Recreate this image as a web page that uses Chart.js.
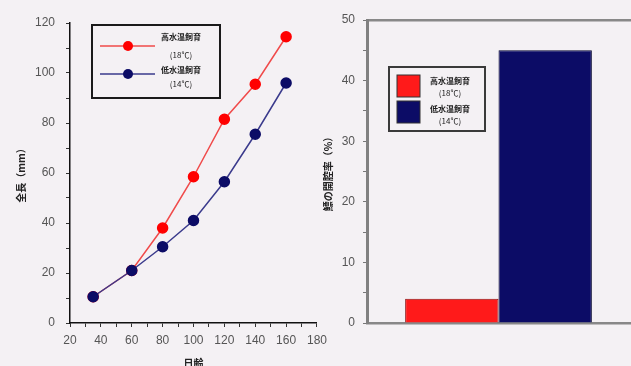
<!DOCTYPE html>
<html>
<head>
<meta charset="utf-8">
<script src="https://cdn.jsdelivr.net/npm/chart.js@4.4.0/dist/chart.umd.min.js"></script>
<style>
  body { margin: 0; background: #f4f1f4; width: 631px; height: 366px; overflow: hidden; position: relative; }
  #l { position: absolute; left: 0; top: 0; width: 333px; height: 366px; }
  #r { position: absolute; left: 315px; top: 0; width: 316px; height: 366px; }
</style>
</head>
<body>
<div id="l"><canvas id="growth"></canvas></div>
<div id="r"><canvas id="rate"></canvas></div>
<script>
// data
const days = [35, 60, 80, 100, 120, 140, 160];
const highTemp = [10.5, 21, 38, 58.5, 81.5, 95.5, 114.5];
const lowTemp = [10.5, 21, 30.5, 41, 56.5, 75.5, 96];
const seriesNames = ['高水温飼育', '低水温飼育'];
const tempLabels = ['(18℃)', '(14℃)'];
const rateValues = [4, 45];

const RED = '#ff1a1a', BLUE = '#0c0c66';
const jp = '"Noto Sans CJK JP", "DejaVu Sans", sans-serif';

// boxed two-line legend, drawn on the canvas
const boxLegend = {
  id: 'boxLegend',
  afterDraw(chart, args, o) {
    if (!o.rows) return;
    const c = chart.ctx;
    c.save();
    c.lineWidth = 2;
    c.strokeStyle = o.border;
    c.strokeRect(o.x, o.y, o.w, o.h);
    chart.data.datasets.forEach((ds, i) => {
      const r = o.rows[i];
      const col = ds.pointBackgroundColor || ds.backgroundColor;
      if (o.kind === 'line') {
        c.strokeStyle = ds.borderColor;
        c.lineWidth = 1.5;
        c.beginPath(); c.moveTo(o.mark[0], r[0]); c.lineTo(o.mark[1], r[0]); c.stroke();
        c.fillStyle = col;
        c.beginPath(); c.arc(o.mark[2], r[0], 5, 0, Math.PI * 2); c.fill();
      } else {
        c.fillStyle = col;
        c.fillRect(o.mark[0], r[0] - 11, o.mark[1] - o.mark[0], 22);
        c.strokeStyle = '#333'; c.lineWidth = 1;
        c.strokeRect(o.mark[0], r[0] - 11, o.mark[1] - o.mark[0], 22);
      }
      c.fillStyle = '#222';
      c.font = 'bold 8px ' + jp;
      c.textAlign = 'center';
      c.textBaseline = 'middle';
      c.fillText(seriesNames[i], o.textX, r[1]);
      c.font = '8px ' + jp;
      c.fillText(tempLabels[i], o.textX, r[2]);
    });
    c.restore();
  }
};

new Chart(document.getElementById('growth'), {
  type: 'line',
  data: {
    datasets: [
      {
        label: seriesNames[0],
        data: days.map((d, i) => ({ x: d, y: highTemp[i] })),
        borderColor: '#f04a4a',
        pointBackgroundColor: '#ff0000',
        pointBorderColor: '#ff0000',
        borderWidth: 1.5,
        pointRadius: 5,
        order: 1
      },
      {
        label: seriesNames[1],
        data: days.map((d, i) => ({ x: d, y: lowTemp[i] })),
        borderColor: '#3a3a8c',
        pointBackgroundColor: BLUE,
        pointBorderColor: BLUE,
        borderWidth: 1.5,
        pointRadius: 5,
        order: 0
      }
    ]
  },
  options: {
    animation: false,
    responsive: true,
    maintainAspectRatio: false,
    layout: { padding: { top: 23, right: 12 } },
    plugins: {
      legend: { display: false },
      tooltip: { enabled: false },
      boxLegend: {
        kind: 'line', border: '#1a1a1a',
        x: 92, y: 25, w: 128, h: 73,
        mark: [100, 155, 128], textX: 181,
        rows: [[46, 37, 55], [74, 70, 84]]
      }
    },
    scales: {
      x: {
        type: 'linear', min: 20, max: 180,
        afterFit: s => { s.height = 43; },
        border: { color: '#111', width: 1.5 },
        grid: { drawOnChartArea: false, tickLength: 4, tickColor: '#333' },
        ticks: { stepSize: 10, padding: 6, color: '#555', font: { size: 12 },
                 maxRotation: 0, autoSkip: false,
                 callback: v => v % 20 === 0 ? v : '' },
        title: { display: true, text: '日齢', color: '#222', font: { size: 10, weight: 'bold', family: jp },
                 padding: { top: 0, bottom: -3 } }
      },
      y: {
        min: 0, max: 120,
        afterFit: s => { s.width = 70; },
        border: { color: '#111', width: 1.5 },
        grid: { drawOnChartArea: false, tickLength: 4, tickColor: '#333' },
        ticks: { stepSize: 10, padding: 11, color: '#555', font: { size: 12 },
                 autoSkip: false,
                 callback: v => v % 20 === 0 ? v : '' },
        title: { display: true, text: '全長（mm）', color: '#222', font: { size: 10, weight: 'bold', family: jp },
                 padding: { top: 15, bottom: 0 } }
      }
    }
  },
  plugins: [boxLegend]
});

new Chart(document.getElementById('rate'), {
  type: 'bar',
  data: {
    labels: [''],
    datasets: [
      { label: seriesNames[0], data: [rateValues[0]], backgroundColor: RED, borderColor: '#8a1010', borderWidth: 1 },
      { label: seriesNames[1], data: [rateValues[1]], backgroundColor: BLUE, borderColor: '#050530', borderWidth: 1 }
    ]
  },
  options: {
    animation: false,
    responsive: true,
    maintainAspectRatio: false,
    layout: { padding: { top: 20, right: 1 } },
    datasets: { bar: { categoryPercentage: 0.71, barPercentage: 1 } },
    plugins: {
      legend: { display: false },
      tooltip: { enabled: false },
      boxLegend: {
        kind: 'box', border: '#3a3a3a',
        x: 74, y: 67, w: 96, h: 64,
        mark: [82, 105], textX: 135,
        rows: [[86, 81, 93], [112, 109, 121]]
      }
    },
    scales: {
      x: {
        afterFit: s => { s.height = 43; },
        border: { color: '#888', width: 2.5 },
        grid: { display: false },
        ticks: { display: false }
      },
      xt: {
        type: 'category', position: 'top',
        afterFit: s => { s.height = 0; },
        border: { color: '#888', width: 2.5 },
        grid: { display: false },
        ticks: { display: false }
      },
      y: {
        min: 0, max: 50,
        afterFit: s => { s.width = 52; },
        border: { color: '#808080', width: 3 },
        grid: { drawOnChartArea: false, tickLength: 4, tickColor: '#777' },
        ticks: { stepSize: 5, padding: 8, color: '#555', font: { size: 12 },
                 autoSkip: false,
                 callback: v => v % 10 === 0 ? v : '' },
        title: { display: true, text: '鰾の開腔率（%）', color: '#222', font: { size: 10, weight: 'bold', family: jp },
                 padding: { top: 7, bottom: 0 } }
      }
    }
  },
  plugins: [boxLegend]
});
</script>
</body>
</html>
